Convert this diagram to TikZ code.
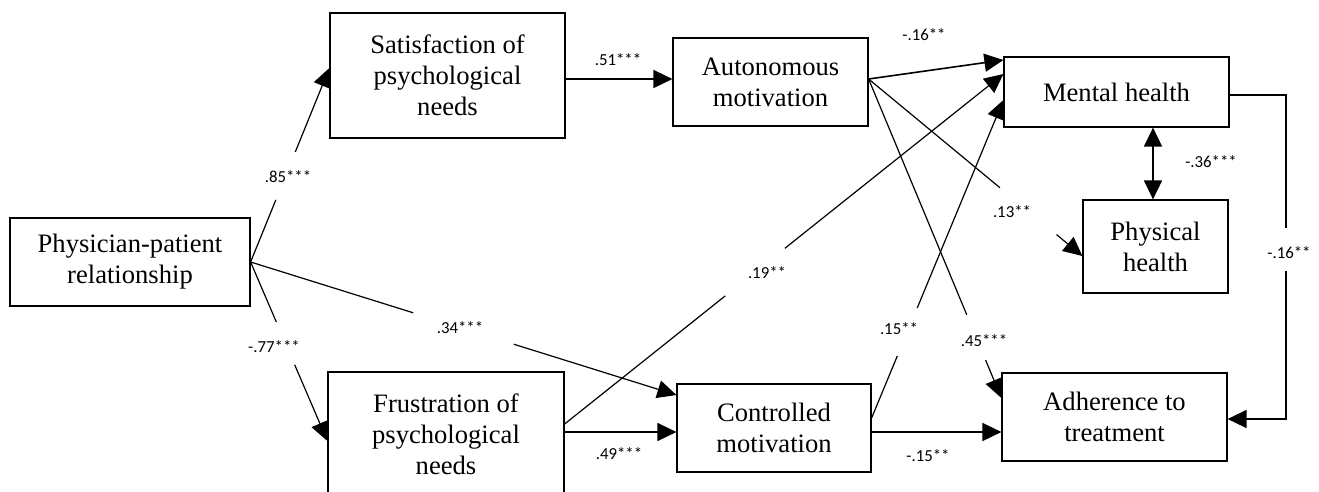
\documentclass[tikz,border=0pt]{standalone}
\usepackage{fontspec}
\setmainfont{Liberation Serif}
\newfontfamily\labfont{Carlito}
\usetikzlibrary{arrows.meta,calc}
\begin{document}
\begin{tikzpicture}[x=1pt,y=-1pt,
  box/.style={draw,line width=1.2pt,inner sep=0pt,align=center,font=\fontsize{26.6}{31}\selectfont},
  lab/.style={font=\labfont\fontsize{16.8}{18}\selectfont,inner sep=0pt},
  con/.style={line width=1.2pt},
  thick con/.style={line width=1.6pt},
  tip/.style={-{Triangle[length=19pt,width=18pt]}},
  arr/.style={con,tip},
  tarr/.style={thick con,tip},
  darr/.style={thick con,{Triangle[length=19pt,width=18pt]}-{Triangle[length=19pt,width=18pt]}}]
\useasboundingbox (0,0) rectangle (1319,491);

% boxes
\node[box,minimum width=240pt,minimum height=88pt] (phys) at (130,262) {Physician-patient\\relationship};
\node[box,minimum width=235pt,minimum height=125pt] (sat) at (447.5,75.5) {Satisfaction of\\psychological\\needs};
\node[box,minimum width=236pt,minimum height=125pt] (frus) at (446,434.5) {Frustration of\\psychological\\needs};
\node[box,minimum width=195pt,minimum height=88pt] (aut) at (770.5,82) {Autonomous\\motivation};
\node[box,minimum width=194pt,minimum height=88pt] (ctrl) at (774,428) {Controlled\\motivation};
\node[box,minimum width=225pt,minimum height=70pt] (ment) at (1116.5,92) {Mental health};
\node[box,minimum width=145pt,minimum height=93pt] (physh) at (1155.5,246.5) {Physical\\health};
\node[box,minimum width=225pt,minimum height=88pt] (adh) at (1114.5,417) {Adherence to\\treatment};

% connector end points
\coordinate (pE) at (phys.east);
\coordinate (satIn) at ([yshift=7.5pt]sat.west);
\coordinate (frusIn) at ([yshift=-6.5pt]frus.west);
\coordinate (ctrlInA) at ([yshift=33pt]ctrl.west);
\coordinate (satOut) at ([yshift=-3.5pt]sat.east);
\coordinate (autIn) at ([yshift=3pt]aut.west);
\coordinate (frusOutA) at ([yshift=10.5pt]frus.east);
\coordinate (frusOutB) at ([yshift=2.5pt]frus.east);
\coordinate (ctrlInB) at ([yshift=-4pt]ctrl.west);
\coordinate (mentInA) at ([yshift=32pt]ment.west);
\coordinate (mentInB) at ([yshift=18pt]ment.west);
\coordinate (mentInC) at ([yshift=-8pt]ment.west);
\coordinate (autOut) at ([yshift=3pt]aut.east);
\coordinate (physIn) at ([yshift=-9.5pt]physh.west);
\coordinate (adhInA) at ([yshift=19pt]adh.west);
\coordinate (ctrlOutA) at ([yshift=10pt]ctrl.east);
\coordinate (ctrlOutB) at ([yshift=-4pt]ctrl.east);
\coordinate (adhInB) at ([yshift=-15pt]adh.west);
\coordinate (mentOut) at ([yshift=-3pt]ment.east);
\coordinate (adhInC) at ([yshift=-2pt]adh.east);
\coordinate (mentS) at ([xshift=36.5pt]ment.south);
\coordinate (physN) at ([xshift=-2.5pt]physh.north);
\coordinate (gapT) at (1286,228);
\coordinate (gapB) at (1286,271);

% connectors
\draw[con] (pE) -- ($(pE)!0.32!(satIn)$);
\draw[arr] ($(pE)!0.567!(satIn)$) -- (satIn);
\draw[con] (pE) -- ($(pE)!0.335!(frusIn)$);
\draw[arr] ($(pE)!0.575!(frusIn)$) -- (frusIn);
\draw[con] (pE) -- ($(pE)!0.382!(ctrlInA)$);
\draw[arr] ($(pE)!0.618!(ctrlInA)$) -- (ctrlInA);
\draw[tarr] (satOut) -- (autIn);
\draw[tarr] (frusOutB) -- (ctrlInB);
\draw[con] (frusOutA) -- ($(frusOutA)!0.366!(mentInB)$);
\draw[arr] ($(frusOutA)!0.502!(mentInB)$) -- (mentInB);
\draw[tarr] (autOut) -- (mentInA);
\draw[con] (autOut) -- ($(autOut)!0.614!(physIn)$);
\draw[arr] ($(autOut)!0.879!(physIn)$) -- (physIn);
\draw[con] (autOut) -- ($(autOut)!0.739!(adhInA)$);
\draw[arr] ($(autOut)!0.881!(adhInA)$) -- (adhInA);
\draw[con] (ctrlOutA) -- ($(ctrlOutA)!0.195!(mentInC)$);
\draw[arr] ($(ctrlOutA)!0.346!(mentInC)$) -- (mentInC);
\draw[tarr] (ctrlOutB) -- (adhInB);
\draw[darr] (mentS) -- (physN);
\draw[con] (mentOut) -| (gapT);
\draw[tarr] (gapB) |- (adhInC);

% labels
\node[lab] (l85) at (288,177) {.85***};
\node[lab] (l77) at (274,347) {-.77***};
\node[lab] (l34) at (460,328) {.34***};
\node[lab] (l51) at (618,60) {.51***};
\node[lab] (l49) at (619,454) {.49***};
\node[lab] (l19) at (767,273) {.19**};
\node[lab] (l16a) at (924,35) {-.16**};
\node[lab] (l13) at (1012,212) {.13**};
\node[lab] (l45) at (984,341) {.45***};
\node[lab] (l15a) at (899,329) {.15**};
\node[lab] (l15b) at (928,456) {-.15**};
\node[lab] (l36) at (1211,162) {-.36***};
\node[lab] (l16b) at (1289,253) {-.16**};
\end{tikzpicture}
\end{document}
